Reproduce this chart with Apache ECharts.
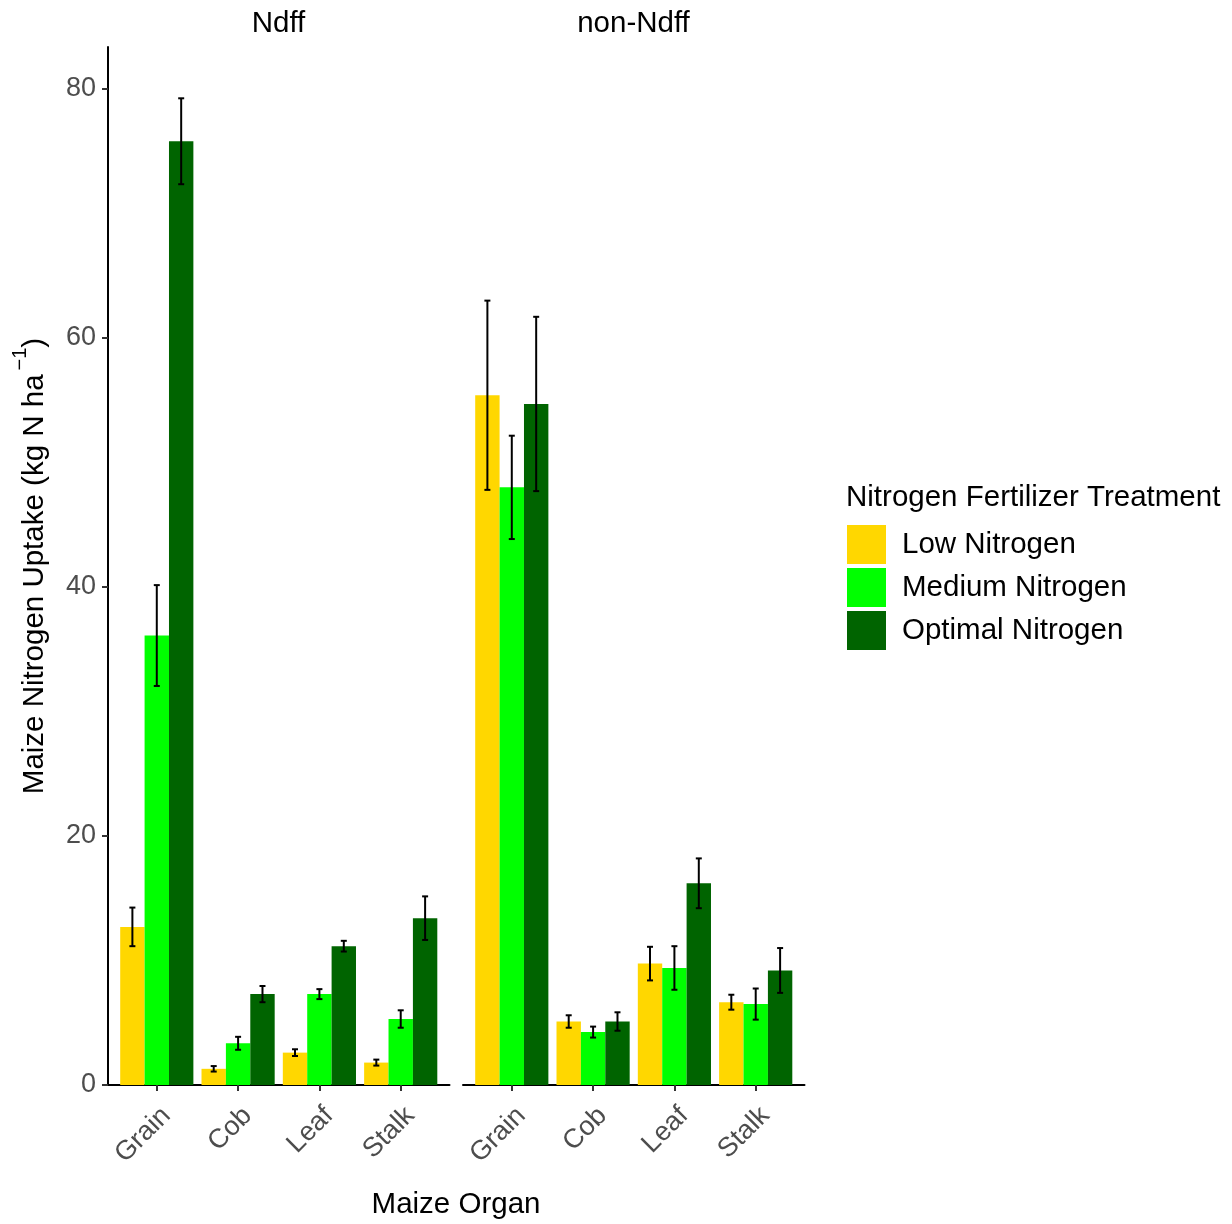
<!DOCTYPE html>
<html>
<head>
<meta charset="utf-8">
<script src="https://cdn.jsdelivr.net/npm/echarts@6/dist/echarts.min.js"></script>
<style>html,body{margin:0;padding:0;background:#fff}#c{width:1232px;height:1224px}</style>
</head>
<body>
<div id="c"></div>
<script>
// ---- data ----
const categories = ['Grain', 'Cob', 'Leaf', 'Stalk'];
const panels = ['Ndff', 'non-Ndff'];
const treatments = ['Low Nitrogen', 'Medium Nitrogen', 'Optimal Nitrogen'];
const yTicks = [0, 20, 40, 60, 80];

const ndffLow = [12.7, 1.3, 2.6, 1.8];
const ndffMedium = [36.1, 3.35, 7.3, 5.3];
const ndffOptimal = [75.8, 7.3, 11.15, 13.4];
const ndffLowSE = [1.55, 0.22, 0.27, 0.24];
const ndffMediumSE = [4.05, 0.52, 0.4, 0.7];
const ndffOptimalSE = [3.45, 0.65, 0.43, 1.75];

const nonNdffLow = [55.4, 5.1, 9.75, 6.65];
const nonNdffMedium = [48.0, 4.25, 9.4, 6.5];
const nonNdffOptimal = [54.7, 5.1, 16.2, 9.2];
const nonNdffLowSE = [7.6, 0.5, 1.35, 0.6];
const nonNdffMediumSE = [4.15, 0.44, 1.75, 1.25];
const nonNdffOptimalSE = [7.0, 0.74, 2.0, 1.8];

// ---- styling ----
const colors = ['#FFD700', '#00FF00', '#006400'];
const FONT = 'Liberation Sans, Arial, sans-serif';
const dodge = 0.3;
const TITLE_SIZE = 29.5;
const TICK_SIZE = 27;

const panelData = [
  { means: [ndffLow, ndffMedium, ndffOptimal], se: [ndffLowSE, ndffMediumSE, ndffOptimalSE] },
  { means: [nonNdffLow, nonNdffMedium, nonNdffOptimal], se: [nonNdffLowSE, nonNdffMediumSE, nonNdffOptimalSE] }
];

function barRender(params, api) {
  const x = api.value(0), y = api.value(1);
  const p0 = api.coord([x - dodge / 2, 0]);
  const p1 = api.coord([x + dodge / 2, y]);
  return {
    type: 'rect',
    shape: { x: p0[0], y: p1[1], width: p1[0] - p0[0], height: p0[1] - p1[1] },
    style: api.style()
  };
}
function errRender(params, api) {
  const x = api.value(0), lo = api.value(1), hi = api.value(2);
  const a = api.coord([x, lo]);
  const b = api.coord([x, hi]);
  const cap = 3;
  const st = { stroke: '#000', lineWidth: 2 };
  return {
    type: 'group',
    children: [
      { type: 'line', shape: { x1: a[0], y1: a[1], x2: b[0], y2: b[1] }, style: st },
      { type: 'line', shape: { x1: a[0] - cap, y1: a[1], x2: a[0] + cap, y2: a[1] }, style: st },
      { type: 'line', shape: { x1: b[0] - cap, y1: b[1], x2: b[0] + cap, y2: b[1] }, style: st }
    ]
  };
}

const series = [];
panelData.forEach((pd, pi) => {
  pd.means.forEach((arr, k) => {
    series.push({
      type: 'custom', name: treatments[k], xAxisIndex: pi, yAxisIndex: pi,
      itemStyle: { color: colors[k] },
      renderItem: barRender,
      encode: { x: 0, y: 1 },
      data: arr.map((v, i) => [i + (k - 1) * dodge, v])
    });
  });
  pd.means.forEach((arr, k) => {
    series.push({
      type: 'custom', name: 'err' + pi + k, xAxisIndex: pi, yAxisIndex: pi,
      renderItem: errRender, z: 5,
      encode: { x: 0, y: [1, 2] },
      data: arr.map((v, i) => [i + (k - 1) * dodge, v - pd.se[k][i], v + pd.se[k][i]])
    });
  });
});

const axisLineStyle = { color: '#000', width: 2 };
function xAxis(gi) {
  return {
    type: 'value', gridIndex: gi, min: -0.6, max: 3.6,
    splitLine: { show: false },
    axisLine: { show: true, onZero: false, lineStyle: axisLineStyle },
    axisTick: { show: true, customValues: [0, 1, 2, 3], length: 6, lineStyle: { color: '#333', width: 2 } },
    axisLabel: {
      customValues: [0, 1, 2, 3], rotate: 45, margin: 17,
      align: 'right', verticalAlign: 'top',
      formatter: v => categories[Math.round(v)],
      color: '#4D4D4D', fontSize: TICK_SIZE, fontFamily: FONT
    }
  };
}
function yAxis(gi, show) {
  return {
    type: 'value', gridIndex: gi, min: 0, max: 83.37,
    splitLine: { show: false },
    axisLine: { show: show, onZero: false, lineStyle: axisLineStyle },
    axisTick: { show: show, customValues: yTicks, length: 6, lineStyle: { color: '#333', width: 2 } },
    axisLabel: { show: show, customValues: yTicks, margin: 12, color: '#4D4D4D', fontSize: TICK_SIZE, fontFamily: FONT },
    name: show ? '{a|Maize Nitrogen Uptake (kg N ha}{s|−1}{a|)}' : '',
    nameLocation: 'middle', nameGap: 58, nameRotate: 90,
    nameTextStyle: {
      rich: {
        a: { fontSize: TITLE_SIZE, fontFamily: FONT, color: '#000', lineHeight: 40, verticalAlign: 'bottom' },
        s: { fontSize: 20, fontFamily: FONT, color: '#000', lineHeight: 40, verticalAlign: 'top', padding: [0, 0, 0, 4] }
      }
    }
  };
}

const chart = echarts.init(document.getElementById('c'), null, { renderer: 'canvas' });
chart.setOption({
  animation: false,
  backgroundColor: '#fff',
  grid: [
    { left: 108, top: 47, width: 341.5, height: 1038 },
    { left: 463, top: 47, width: 341.5, height: 1038 }
  ],
  xAxis: [xAxis(0), xAxis(1)],
  yAxis: [yAxis(0, true), yAxis(1, false)],
  legend: {
    orient: 'vertical', left: 847, top: 525, padding: 0,
    itemWidth: 39, itemHeight: 39, itemGap: 4, icon: 'rect',
    textStyle: { fontSize: TITLE_SIZE, fontFamily: FONT, color: '#000', padding: [3, 0, 0, 11] },
    data: treatments.map((t, k) => ({ name: t, itemStyle: { color: colors[k] } }))
  },
  graphic: [
    { type: 'text', x: 278.5, y: 24, style: { text: panels[0], fontSize: TITLE_SIZE, fontFamily: FONT, fill: '#000', align: 'center', verticalAlign: 'middle' } },
    { type: 'text', x: 633.5, y: 24, style: { text: panels[1], fontSize: TITLE_SIZE, fontFamily: FONT, fill: '#000', align: 'center', verticalAlign: 'middle' } },
    { type: 'text', x: 456, y: 1205, style: { text: 'Maize Organ', fontSize: TITLE_SIZE, fontFamily: FONT, fill: '#000', align: 'center', verticalAlign: 'middle' } },
    { type: 'text', x: 846, y: 498, style: { text: 'Nitrogen Fertilizer Treatment', fontSize: TITLE_SIZE, fontFamily: FONT, fill: '#000', align: 'left', verticalAlign: 'middle' } }
  ],
  series: series
});
</script>
</body>
</html>
